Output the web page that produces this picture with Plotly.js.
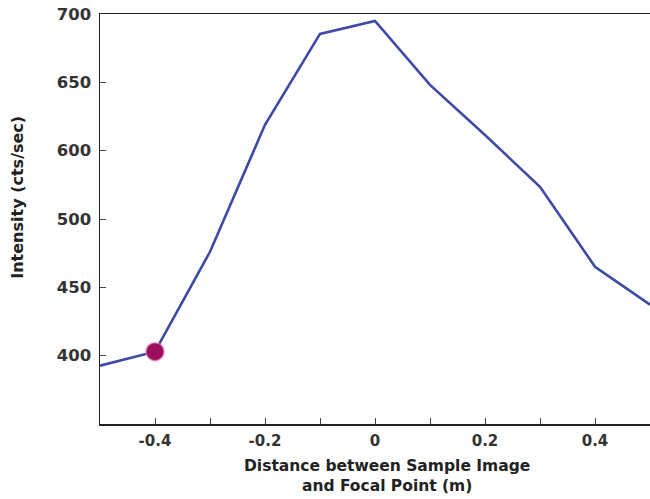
<!DOCTYPE html>
<html>
<head>
<meta charset="utf-8">
<script src="https://cdn.plot.ly/plotly-3.0.1.min.js"></script>
<style>
  html, body { margin: 0; padding: 0; background: #fff; }
  #chart { width: 650px; height: 499px; }
</style>
</head>
<body>
<div id="chart"></div>
<script>
// Data
const distance = [-0.5, -0.4, -0.3, -0.2, -0.1, 0, 0.1, 0.2, 0.3, 0.4, 0.5];
const intensity = [442.7, 452.9, 526, 618.9, 685.4, 694.9, 648.1, 611.5, 573.5, 515.1, 487.3];
const highlightX = [-0.4];
const highlightY = [452.9];
const yTickVals = [450, 500, 550, 600, 650, 700];
const yTickText = ['400', '450', '500', '600', '650', '700'];
const xTickVals = [-0.4, -0.2, 0, 0.2, 0.4];
const xTickText = ['-0.4', '-0.2', '0', '0.2', '0.4'];
const xTitle = 'Distance between Sample Image<br>and Focal Point (m)';
const yTitle = 'Intensity (cts/sec)';

const fontFam = '"DejaVu Sans", "Open Sans", sans-serif';

const traces = [
  {
    x: distance, y: intensity, type: 'scatter', mode: 'lines',
    line: { color: '#3d4aa6', width: 2.6 },
    hoverinfo: 'skip', showlegend: false
  },
  {
    x: highlightX, y: highlightY, type: 'scatter', mode: 'markers',
    marker: { color: '#9a0e5c', size: 18, line: { color: 'rgba(235,120,195,0.7)', width: 1.5 } },
    showlegend: false, cliponaxis: false
  }
];

const layout = {
  width: 650, height: 499,
  margin: { l: 100, r: 0, t: 14, b: 75 },
  paper_bgcolor: '#ffffff', plot_bgcolor: '#ffffff',
  font: { family: fontFam, color: '#333333' },
  xaxis: {
    range: [-0.5, 0.5],
    tickvals: xTickVals, ticktext: xTickText,
    ticks: 'inside', ticklen: 6, tickwidth: 1, tickcolor: '#444',
    minor: { dtick: 0.1, ticks: 'inside', ticklen: 6, tickwidth: 1, tickcolor: '#444' },
    showline: true, linecolor: '#222', linewidth: 1.5, mirror: true,
    showgrid: false, zeroline: false,
    tickfont: { size: 15, family: fontFam, weight: 'bold', color: '#333' },
    ticklabelstandoff: 2
  },
  yaxis: {
    range: [400, 700],
    tickvals: yTickVals, ticktext: yTickText,
    ticks: 'inside', ticklen: 6, tickwidth: 1, tickcolor: '#444',
    showline: true, linecolor: '#222', linewidth: 1.5, mirror: true,
    showgrid: false, zeroline: false,
    tickfont: { size: 16.5, family: fontFam, weight: 'bold', color: '#333' },
    ticklabelstandoff: 4
  },
  annotations: [
    {
      text: xTitle, xref: 'paper', yref: 'paper', x: 0.522, y: -0.076,
      xanchor: 'center', yanchor: 'top', showarrow: false, align: 'center',
      font: { size: 15.5, family: fontFam, weight: 'bold', color: '#222' }
    },
    {
      text: yTitle, xref: 'paper', yref: 'paper', x: -0.149, y: 0.552,
      xanchor: 'center', yanchor: 'middle', textangle: -90, showarrow: false,
      font: { size: 16, family: fontFam, weight: 'bold', color: '#222' }
    }
  ]
};

Plotly.newPlot('chart', traces, layout, { displayModeBar: false, staticPlot: true });
</script>
</body>
</html>
